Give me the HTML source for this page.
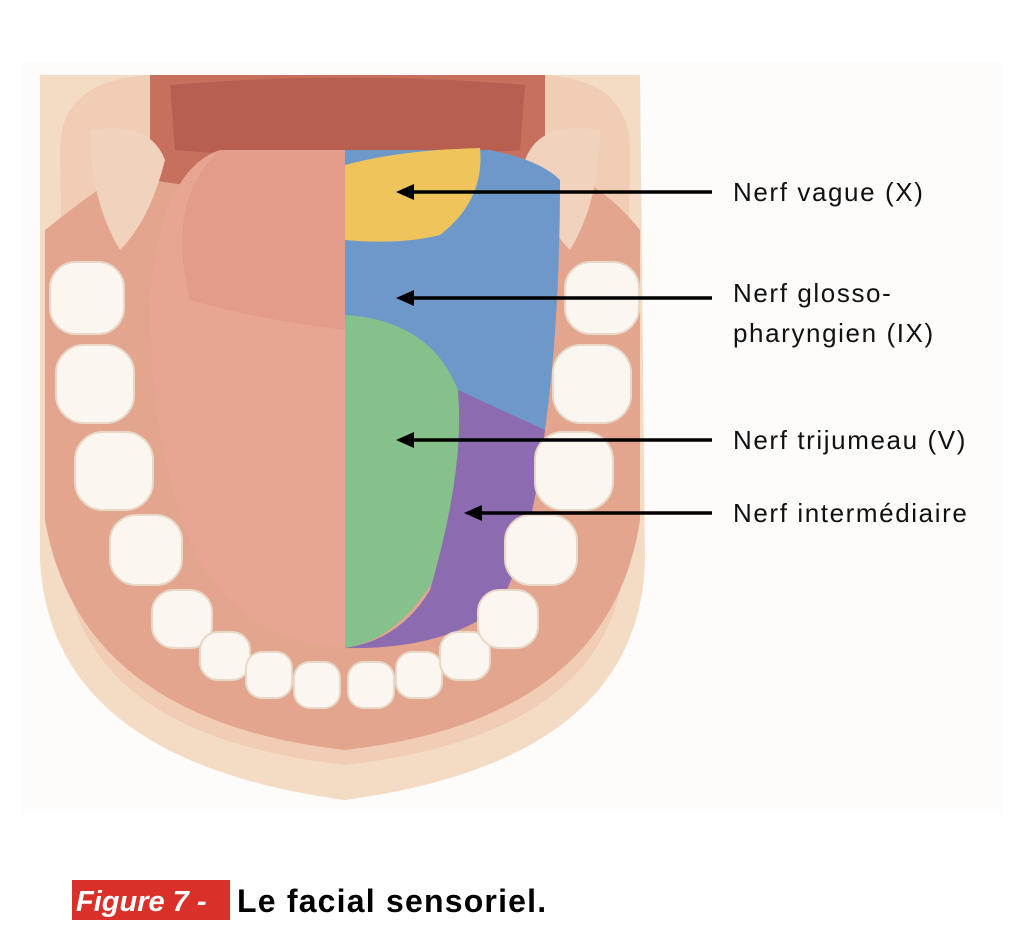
<!DOCTYPE html>
<html><head><meta charset="utf-8"><style>
html,body{margin:0;padding:0;background:#fff;width:1020px;height:942px;overflow:hidden}
</style></head><body>
<svg width="1020" height="942" viewBox="0 0 1020 942" xmlns="http://www.w3.org/2000/svg" style="position:absolute;left:0;top:0">
<rect width="1020" height="942" fill="#fff"/>
<rect x="22" y="62" width="980" height="750" fill="#fdfcfb"/>
<path d="M40 75 L640 75 L645 560 Q640 760 345 800 Q50 760 40 560 Z" fill="#f4dcc4"/>
<path d="M60 150 Q60 80 150 75 L545 75 Q630 80 630 150 L625 560 Q610 735 345 765 Q80 735 65 560 Z" fill="#f0cdb4"/>
<path d="M45 230 Q120 170 150 160 L540 160 Q600 180 640 230 L640 520 Q610 720 345 750 Q80 720 45 520 Z" fill="#e3a58e"/>
<path d="M150 75 L545 75 L545 180 Q345 210 150 180 Z" fill="#c8705e"/>
<path d="M170 85 Q345 70 525 85 L520 150 Q345 165 175 150 Z" fill="#b85f52"/>
<path d="M90 130 Q150 120 165 160 Q150 220 120 250 Q90 200 90 130Z" fill="#f1d3bd"/>
<path d="M600 130 Q540 120 525 160 Q540 220 570 250 Q600 200 600 130Z" fill="#f1d3bd"/>
<path d="M345 150 L345 648 Q250 640 205 570 Q150 470 150 300 Q160 170 220 150 Z" fill="#e9a594"/>
<path d="M345 150 L345 330 Q260 320 190 300 Q165 200 220 150 Z" fill="#df9585" opacity="0.6"/>
<path d="M345 150 L490 150 Q540 160 560 180 Q560 320 545 430 L460 430 Q440 330 345 315 Z" fill="#6e98c9"/>
<path d="M345 165 Q400 150 480 148 Q485 200 440 235 Q400 245 345 240 Z" fill="#efc45a"/>
<path d="M345 315 Q430 320 458 390 Q465 470 440 570 Q400 640 345 648 Z" fill="#86c18b"/>
<path d="M458 390 L545 430 Q530 560 495 610 Q440 650 345 648 Q400 640 430 590 Q465 470 458 390 Z" fill="#8c6bb1"/>
<g fill="#fbf7f0" stroke="#e8d8c8" stroke-width="2">
<rect x="50" y="262" width="74" height="72" rx="26"/>
<rect x="56" y="345" width="78" height="78" rx="28"/>
<rect x="75" y="432" width="78" height="78" rx="28"/>
<rect x="110" y="515" width="72" height="70" rx="26"/>
<rect x="152" y="590" width="60" height="58" rx="22"/>
<rect x="200" y="632" width="50" height="48" rx="18"/>
<rect x="246" y="652" width="46" height="46" rx="16"/>
<rect x="294" y="662" width="46" height="46" rx="16"/>
<rect x="348" y="662" width="46" height="46" rx="16"/>
<rect x="396" y="652" width="46" height="46" rx="16"/>
<rect x="440" y="632" width="50" height="48" rx="18"/>
<rect x="478" y="590" width="60" height="58" rx="22"/>
<rect x="505" y="515" width="72" height="70" rx="26"/>
<rect x="535" y="432" width="78" height="78" rx="28"/>
<rect x="553" y="345" width="78" height="78" rx="28"/>
<rect x="565" y="262" width="74" height="72" rx="26"/>
</g>
<g stroke="#000" stroke-width="3.5" fill="#000">
<line x1="712" y1="192" x2="410" y2="192"/><polygon points="396,192 414,184 414,200" stroke="none"/>
<line x1="712" y1="298" x2="410" y2="298"/><polygon points="396,298 414,290 414,306" stroke="none"/>
<line x1="712" y1="440" x2="410" y2="440"/><polygon points="396,440 414,432 414,448" stroke="none"/>
<line x1="712" y1="513" x2="478" y2="513"/><polygon points="464,513 482,505 482,521" stroke="none"/>
</g>
<g font-family="Liberation Sans, sans-serif" font-size="26" fill="#111" letter-spacing="1.6">
<text x="733" y="201">Nerf vague (X)</text>
<text x="733" y="302">Nerf glosso-</text>
<text x="733" y="342">pharyngien (IX)</text>
<text x="733" y="449">Nerf trijumeau (V)</text>
<text x="733" y="522">Nerf intermédiaire</text>
</g>
<rect x="72" y="880" width="158" height="40" fill="#d9302a"/>
<text x="76" y="911" font-family="Liberation Sans, sans-serif" font-size="29" font-style="italic" font-weight="bold" fill="#fff">Figure 7 -</text>
<text x="237" y="912" font-family="Liberation Sans, sans-serif" font-size="32" font-weight="bold" fill="#000" letter-spacing="1.2">Le facial sensoriel.</text>
</svg>
</body></html>
